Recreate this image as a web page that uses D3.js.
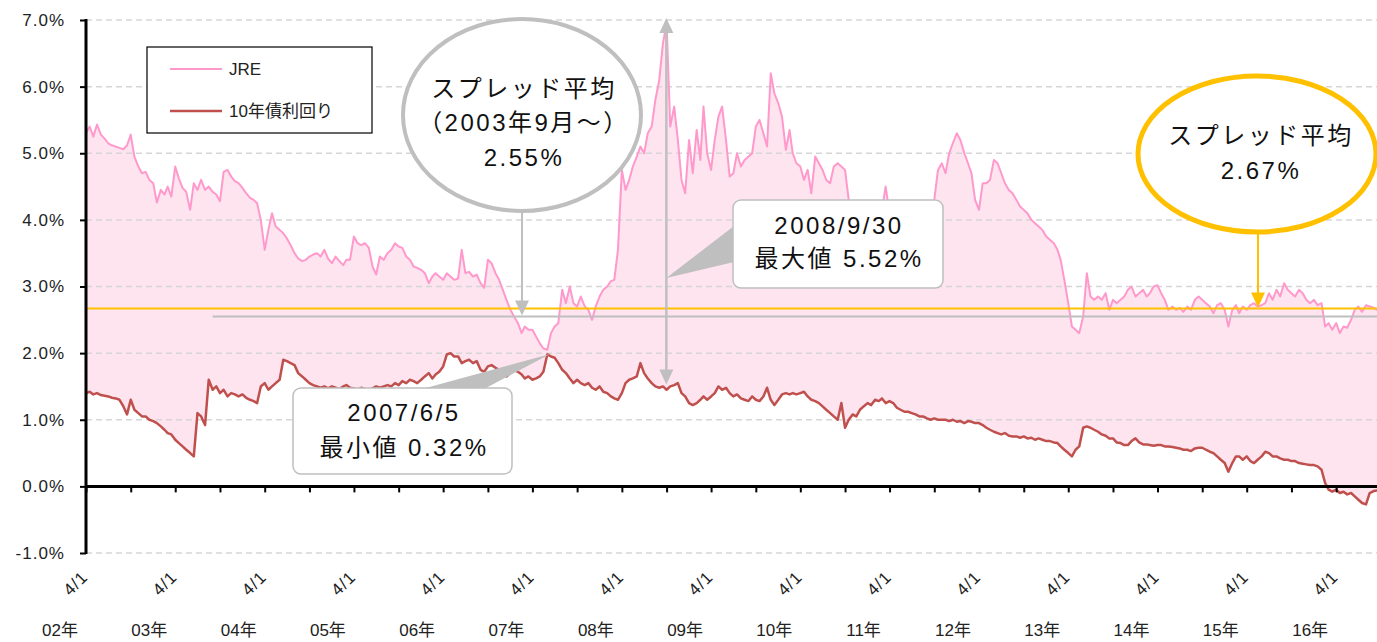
<!DOCTYPE html>
<html><head><meta charset="utf-8">
<script src="https://cdn.jsdelivr.net/npm/d3@7"></script>
<style>body{margin:0;background:#fff;} svg{display:block;}</style>
</head><body><svg id="c" width="1377" height="642"></svg>
<script>
// semi-monthly observations (1st and 16th of each month) starting 2002-04-01, in %
const jre = [
5.30,5.40,5.25,5.43,5.28,5.22,5.15,5.12,5.10,5.08,
5.06,5.12,5.28,4.95,4.80,4.70,4.72,4.60,4.55,4.26,
4.45,4.38,4.50,4.35,4.80,4.62,4.48,4.42,4.15,4.55,
4.45,4.60,4.45,4.50,4.42,4.38,4.28,4.72,4.75,4.65,
4.58,4.55,4.48,4.40,4.33,4.30,4.25,4.00,3.55,3.85,
4.10,3.90,3.85,3.80,3.72,3.62,3.50,3.42,3.38,3.40,
3.45,3.48,3.50,3.45,3.55,3.42,3.35,3.45,3.38,3.32,
3.40,3.40,3.75,3.65,3.62,3.65,3.58,3.30,3.18,3.45,
3.40,3.50,3.55,3.65,3.60,3.58,3.45,3.40,3.30,3.28,
3.25,3.20,3.05,3.15,3.20,3.15,3.10,3.20,3.15,3.10,
3.12,3.55,3.20,3.22,3.15,3.18,3.05,2.98,3.40,3.35,
3.20,3.10,2.95,2.80,2.65,2.55,2.45,2.30,2.40,2.35,
2.35,2.25,2.15,2.07,2.05,2.30,2.40,2.45,2.95,2.75,
3.00,2.75,2.70,2.85,2.70,2.65,2.50,2.70,2.85,2.95,
3.00,3.08,3.10,3.55,4.75,4.45,4.60,4.80,4.95,5.10,
5.00,5.30,5.40,5.80,6.10,6.65,6.95,5.40,5.70,5.20,
4.60,4.40,5.20,4.70,5.35,4.90,5.70,5.00,4.75,5.20,
5.55,5.70,5.20,4.65,4.70,5.00,4.80,4.90,4.95,5.00,
5.40,5.50,5.30,5.10,6.20,5.90,5.75,5.55,5.05,5.35,
5.00,4.85,4.80,4.60,4.75,4.40,4.95,4.85,4.75,4.60,
4.55,4.80,4.85,4.80,4.75,4.30,4.25,4.15,4.20,4.10,
4.05,4.15,4.10,4.00,4.15,4.50,4.10,4.05,4.00,4.10,
4.15,4.05,4.00,4.10,4.20,4.15,4.10,4.05,4.30,4.75,
4.85,4.70,5.00,5.15,5.30,5.20,5.00,4.85,4.70,4.30,
4.15,4.55,4.55,4.60,4.90,4.85,4.70,4.55,4.45,4.40,
4.30,4.20,4.15,4.10,4.00,3.95,3.90,3.85,3.75,3.70,
3.65,3.55,3.40,3.10,2.75,2.40,2.35,2.30,2.55,3.20,
2.85,2.80,2.85,2.80,2.90,2.65,2.80,2.75,2.80,2.85,
2.95,3.00,2.85,2.90,2.95,2.85,2.90,3.00,3.02,2.90,
2.80,2.65,2.70,2.65,2.68,2.62,2.70,2.65,2.80,2.85,
2.80,2.75,2.70,2.60,2.72,2.75,2.65,2.40,2.65,2.72,
2.60,2.70,2.65,2.72,2.75,2.70,2.72,2.75,2.90,2.80,
2.95,2.85,3.05,2.95,2.90,2.85,2.95,2.90,2.80,2.75,
2.80,2.72,2.75,2.40,2.45,2.35,2.45,2.30,2.40,2.38,
2.50,2.65,2.70,2.62,2.72,2.70,2.68,2.65
];
const jgb10y = [
1.40,1.42,1.38,1.40,1.37,1.36,1.35,1.33,1.32,1.30,
1.20,1.08,1.30,1.15,1.10,1.05,1.05,1.00,0.98,0.95,
0.90,0.85,0.80,0.78,0.70,0.65,0.60,0.55,0.50,0.45,
1.10,1.05,0.92,1.60,1.45,1.50,1.40,1.45,1.35,1.40,
1.38,1.35,1.38,1.33,1.30,1.28,1.25,1.50,1.55,1.45,
1.50,1.55,1.60,1.90,1.88,1.85,1.82,1.70,1.65,1.60,
1.55,1.52,1.50,1.48,1.50,1.47,1.50,1.48,1.46,1.50,
1.52,1.48,1.47,1.45,1.48,1.46,1.45,1.47,1.50,1.48,
1.50,1.52,1.50,1.55,1.52,1.58,1.55,1.60,1.58,1.55,
1.60,1.65,1.70,1.62,1.68,1.72,1.80,1.98,2.00,1.95,
1.95,1.85,1.88,1.90,1.85,1.88,1.75,1.72,1.80,1.82,
1.78,1.75,1.68,1.65,1.70,1.75,1.72,1.68,1.62,1.65,
1.60,1.62,1.65,1.72,1.98,1.95,1.93,1.85,1.75,1.70,
1.62,1.55,1.60,1.55,1.52,1.55,1.48,1.45,1.50,1.42,
1.40,1.35,1.32,1.30,1.40,1.55,1.60,1.62,1.65,1.85,
1.70,1.62,1.55,1.50,1.48,1.50,1.45,1.50,1.52,1.55,
1.40,1.35,1.25,1.22,1.25,1.30,1.35,1.30,1.35,1.40,
1.50,1.45,1.48,1.40,1.35,1.38,1.32,1.30,1.28,1.35,
1.30,1.28,1.35,1.48,1.30,1.22,1.30,1.38,1.40,1.38,
1.40,1.38,1.40,1.42,1.35,1.30,1.28,1.25,1.20,1.15,
1.10,1.05,1.00,1.25,0.88,1.00,1.08,1.05,1.15,1.20,
1.25,1.22,1.30,1.28,1.32,1.25,1.28,1.25,1.18,1.15,
1.12,1.12,1.10,1.08,1.05,1.05,1.02,1.00,1.02,1.00,
1.00,1.00,0.98,1.00,0.97,0.98,0.95,0.98,0.97,0.95,
0.95,0.92,0.88,0.85,0.82,0.80,0.78,0.80,0.76,0.75,
0.75,0.73,0.75,0.72,0.73,0.70,0.72,0.70,0.68,0.68,
0.66,0.65,0.60,0.55,0.50,0.45,0.55,0.60,0.88,0.90,
0.88,0.85,0.82,0.78,0.76,0.72,0.72,0.66,0.65,0.62,
0.62,0.68,0.72,0.66,0.63,0.63,0.62,0.61,0.62,0.62,
0.60,0.60,0.59,0.58,0.57,0.55,0.55,0.53,0.57,0.58,
0.58,0.55,0.52,0.50,0.45,0.40,0.35,0.22,0.35,0.45,
0.45,0.40,0.45,0.38,0.35,0.40,0.45,0.52,0.50,0.45,
0.45,0.42,0.40,0.40,0.38,0.38,0.35,0.34,0.33,0.32,
0.32,0.30,0.25,0.05,-0.05,-0.08,-0.05,-0.10,-0.08,-0.12,
-0.10,-0.15,-0.20,-0.25,-0.27,-0.10,-0.07,-0.06
];
const yTicks = [-1,0,1,2,3,4,5,6,7];
const yearLabels = ["02年","03年","04年","05年","06年","07年","08年","09年","10年","11年","12年","13年","14年","15年","16年"];
const tickLabel = "4/1";
const spreadAvgAll = 2.67;
const spreadAvg2003 = 2.55;
const maxSpreadDate = "2008-09-30", maxSpread = "5.52%";
const minSpreadDate = "2007-06-05", minSpread = "0.32%";
const legendNames = ["JRE","10年債利回り"];

const svg = d3.select("#c");
const W = 1377, H = 642;
svg.append("rect").attr("width",W).attr("height",H).attr("fill","#fff");

const dates = jre.map((_, i) => new Date(2002, 3 + Math.floor(i/2), i % 2 ? 16 : 1));
const data = jre.map((v, i) => ({date: dates[i], jre: v, jgb: jgb10y[i]}));

const x = d3.scaleTime().domain([new Date(2002,3,1), new Date(2016,8,15)]).range([86, 1377]);
const y = d3.scaleLinear().domain([-1, 7]).range([553, 20]);
const parse = d3.timeParse("%Y-%m-%d");

const JP = "'Liberation Sans','Noto Sans CJK JP',sans-serif";

// fill between series
svg.append("path").datum(data)
  .attr("d", d3.area().x(d=>x(d.date)).y0(d=>y(d.jgb)).y1(d=>y(d.jre)))
  .attr("fill", "#fde4ef");

// gridlines
svg.append("g").selectAll("line").data(yTicks.filter(d=>d!==0)).join("line")
  .attr("x1", 86).attr("x2", W).attr("y1", d=>y(d)).attr("y2", d=>y(d))
  .attr("stroke", "#d6d6d6").attr("stroke-width", 1.5).attr("stroke-dasharray", "6,4");

// series lines
svg.append("path").datum(data)
  .attr("d", d3.line().x(d=>x(d.date)).y(d=>y(d.jre)))
  .attr("fill","none").attr("stroke","#ff99cc").attr("stroke-width",2).attr("stroke-linejoin","round");
svg.append("path").datum(data)
  .attr("d", d3.line().x(d=>x(d.date)).y(d=>y(d.jgb)))
  .attr("fill","none").attr("stroke","#c0504d").attr("stroke-width",2.5).attr("stroke-linejoin","round");

// average lines
svg.append("line").attr("x1", x(new Date(2003,8,1))).attr("x2", W)
  .attr("y1", y(spreadAvg2003)).attr("y2", y(spreadAvg2003))
  .attr("stroke","#bfbfbf").attr("stroke-width",2);
svg.append("line").attr("x1", 86).attr("x2", W)
  .attr("y1", y(spreadAvgAll)).attr("y2", y(spreadAvgAll))
  .attr("stroke","#ffc000").attr("stroke-width",2);

// axes
const yAxis = svg.append("g").attr("transform","translate(86,0)")
  .call(d3.axisLeft(y).tickValues(yTicks).tickFormat(d=>d.toFixed(1)+"%").tickSize(6).tickPadding(15));
yAxis.select(".domain").remove();
yAxis.selectAll(".tick line").attr("stroke","#000").attr("stroke-width",2);
yAxis.selectAll(".tick text").attr("font-family",JP).attr("font-size",17).attr("fill","#222").attr("letter-spacing","1px");

const tickDates = [];
for (let yr = 2002; yr <= 2016; yr++) { tickDates.push(new Date(yr,3,1)); tickDates.push(new Date(yr,9,1)); }
const xAxis = svg.append("g").attr("transform",`translate(0,${y(0)})`)
  .call(d3.axisBottom(x).tickValues(tickDates.filter(d=>x(d)<=W)).tickSize(6).tickFormat(""));
xAxis.select(".domain").remove();
xAxis.selectAll(".tick line").attr("stroke","#000").attr("stroke-width",2);

svg.append("line").attr("x1",86).attr("x2",W).attr("y1",y(0)).attr("y2",y(0)).attr("stroke","#000").attr("stroke-width",3);
svg.append("line").attr("x1",86).attr("x2",86).attr("y1",y(7)-1).attr("y2",y(-1)+1).attr("stroke","#000").attr("stroke-width",3);

const aprTicks = yearLabels.map((_, i) => new Date(2002+i,3,1));
svg.append("g").selectAll("text").data(aprTicks).join("text")
  .attr("transform", d=>`translate(${x(d)+3},${578}) rotate(-45)`)
  .attr("text-anchor","end").attr("font-family",JP).attr("font-size",17).attr("letter-spacing","1px")
  .attr("fill","#222").text(tickLabel);
svg.append("g").selectAll("text").data(yearLabels).join("text")
  .attr("x", (d,i)=>x(aprTicks[i])-26).attr("y", 636)
  .attr("text-anchor","middle").attr("font-family",JP).attr("font-size",17).attr("fill","#222").text(d=>d);

// legend
const lg = svg.append("g");
lg.append("rect").attr("x",147).attr("y",47).attr("width",225).attr("height",86)
  .attr("fill","#fff").attr("stroke","#000").attr("stroke-width",1.2);
const lgColors = ["#ff99cc","#c0504d"], lgW = [2,2.5], lgY = [69,111];
legendNames.forEach((n,i)=>{
  lg.append("line").attr("x1",170).attr("x2",222).attr("y1",lgY[i]).attr("y2",lgY[i]).attr("stroke",lgColors[i]).attr("stroke-width",lgW[i]);
  lg.append("text").attr("x",229).attr("y",lgY[i]+6).attr("font-family",JP).attr("font-size",17).attr("fill","#222").text(n);
});

// helpers
function arrowHead(g, cx, tipY, dir, color){ // dir: 1 = pointing down, -1 = pointing up
  const w = 7, h = 15;
  g.append("path").attr("d", `M${cx},${tipY} L${cx-w},${tipY - dir*h} L${cx+w},${tipY - dir*h} Z`).attr("fill", color);
}
function texts(g, cx, lines, ys, size){
  lines.forEach((t,i)=> g.append("text").attr("x",cx).attr("y",ys[i]).attr("text-anchor","middle")
    .attr("font-family",JP).attr("font-size",size).attr("letter-spacing","2.5px").attr("fill","#111").text(t));
}
const ann = svg.append("g");

// max-spread double arrow
const mx = x(parse(maxSpreadDate));
ann.append("line").attr("x1",mx).attr("x2",mx).attr("y1",y(7)+12).attr("y2",y(1.53)-12).attr("stroke","#bfbfbf").attr("stroke-width",2.5);
arrowHead(ann, mx, y(7)-2, -1, "#bfbfbf");
arrowHead(ann, mx, y(1.53), 1, "#bfbfbf");

// gray ellipse + arrow
ann.append("line").attr("x1",522).attr("x2",522).attr("y1",212).attr("y2",y(spreadAvg2003)-12).attr("stroke","#bfbfbf").attr("stroke-width",2);
arrowHead(ann, 522, y(spreadAvg2003)-1, 1, "#bfbfbf");
ann.append("ellipse").attr("cx",522).attr("cy",115).attr("rx",119).attr("ry",96).attr("fill","#fff").attr("stroke","#bfbfbf").attr("stroke-width",4);
texts(ann, 524, ["スプレッド平均","（2003年9月～）","2.55%"], [97,131,166], 24);

// orange ellipse + arrow
ann.append("line").attr("x1",1258).attr("x2",1258).attr("y1",232).attr("y2",y(spreadAvgAll)-12).attr("stroke","#ffc000").attr("stroke-width",2);
arrowHead(ann, 1258, y(spreadAvgAll)-1, 1, "#ffc000");
ann.append("ellipse").attr("cx",1257).attr("cy",154).attr("rx",119).attr("ry",78).attr("fill","#fff").attr("stroke","#ffc000").attr("stroke-width",5);
texts(ann, 1261, ["スプレッド平均","2.67%"], [144,179], 24);

// max callout
ann.append("path").attr("d",`M734,226 L${mx},278 L734,262 Z`).attr("fill","#bfbfbf");
ann.append("rect").attr("x",733).attr("y",200).attr("width",210).attr("height",88).attr("rx",8)
  .attr("fill","#fff").attr("stroke","#bfbfbf").attr("stroke-width",1.5);
texts(ann, 839, ["2008/9/30","最大値 "+maxSpread], [234,267], 24);

// min callout
const nx = x(parse(minSpreadDate));
ann.append("path").attr("d",`M422,389 L${nx+2},354 L484,389 Z`).attr("fill","#bfbfbf");
ann.append("rect").attr("x",293).attr("y",388).attr("width",219).attr("height",86).attr("rx",8)
  .attr("fill","#fff").attr("stroke","#bfbfbf").attr("stroke-width",1.5);
texts(ann, 404, ["2007/6/5","最小値 "+minSpread], [421,456], 24);
</script></body></html>
